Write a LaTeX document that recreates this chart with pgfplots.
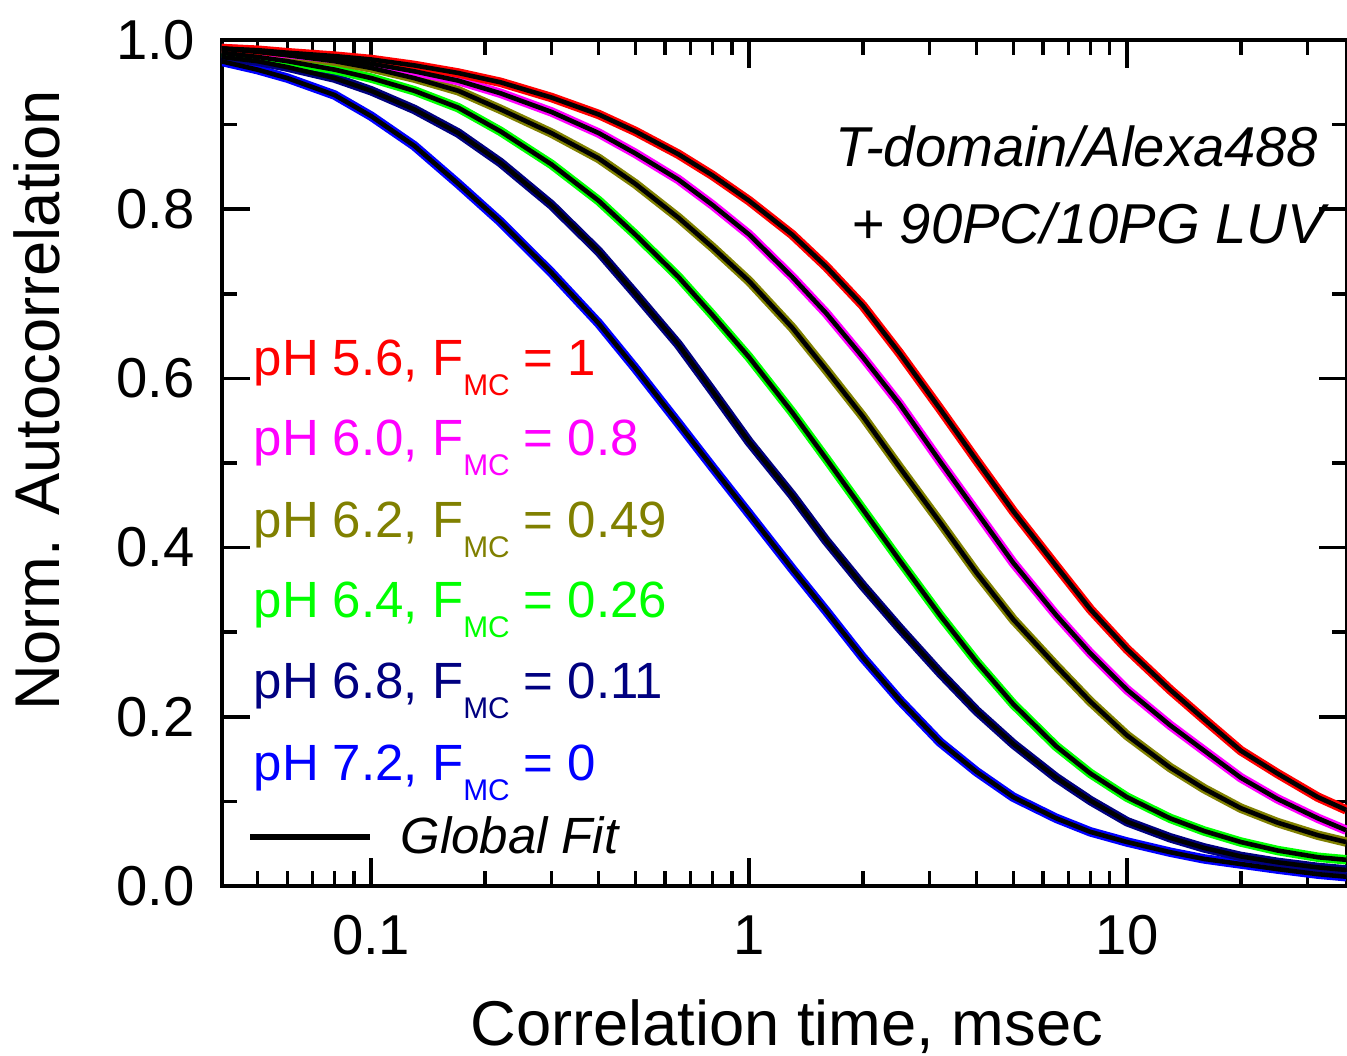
\documentclass[border=0pt]{standalone}
\usepackage{pgfplots}
\usepackage{pgfplotstable}
\pgfplotsset{compat=1.18}
\usepackage{fontspec}
\setmainfont{Liberation Sans}
\definecolor{cRed}{RGB}{255,0,0}
\definecolor{cMag}{RGB}{255,0,255}
\definecolor{cOli}{RGB}{128,128,0}
\definecolor{cGre}{RGB}{0,255,0}
\definecolor{cNav}{RGB}{0,0,128}
\definecolor{cBlu}{RGB}{0,0,255}
\newcommand{\sub}[1]{\raisebox{-0.2cm}{\fontsize{8.5}{8.5}\selectfont #1}}

\pgfplotstableread{
x     red    magenta olive  green  navy   blue
0.04  0.990  0.990   0.990  0.985  0.980  0.975
0.05  0.988  0.987   0.986  0.980  0.975  0.965
0.06  0.985  0.984   0.982  0.975  0.968  0.955
0.08  0.981  0.978   0.975  0.965  0.955  0.935
0.1   0.977  0.972   0.967  0.955  0.940  0.910
0.13  0.970  0.963   0.955  0.940  0.918  0.875
0.17  0.961  0.952   0.940  0.920  0.890  0.830
0.22  0.950  0.937   0.918  0.892  0.855  0.785
0.3   0.932  0.915   0.890  0.853  0.805  0.725
0.4   0.912  0.890   0.860  0.810  0.750  0.665
0.5   0.892  0.866   0.830  0.770  0.700  0.612
0.65  0.865  0.835   0.790  0.720  0.640  0.547
0.8   0.840  0.805   0.755  0.675  0.585  0.495
1     0.810  0.770   0.715  0.625  0.525  0.440
1.3   0.770  0.720   0.660  0.560  0.462  0.375
1.6   0.732  0.677   0.610  0.505  0.408  0.325
2     0.686  0.625   0.555  0.445  0.355  0.270
2.5   0.630  0.570   0.495  0.385  0.305  0.220
3.2   0.564  0.502   0.430  0.320  0.252  0.170
4     0.503  0.442   0.370  0.265  0.207  0.135
5     0.443  0.382   0.315  0.215  0.168  0.105
6.5   0.378  0.320   0.260  0.165  0.128  0.080
8     0.327  0.275   0.218  0.133  0.101  0.064
10    0.280  0.232   0.178  0.105  0.076  0.052
13    0.232  0.190   0.140  0.080  0.057  0.040
16    0.197  0.160   0.115  0.065  0.045  0.032
20    0.160  0.128   0.092  0.052  0.035  0.026
25    0.133  0.103   0.075  0.042  0.028  0.020
32    0.105  0.080   0.060  0.034  0.022  0.014
38    0.090  0.066   0.052  0.031  0.019  0.011
}\datatable

\begin{document}
\begin{tikzpicture}
\begin{axis}[
  scale only axis, width=11.25cm, height=8.46cm,
  xmode=log, xmin=0.0403, xmax=38.2, ymin=0, ymax=1,
  axis line style={line width=1.1pt},
  tick style={line width=1pt, black},
  tick align=inside,
  major tick length=0.28cm, minor tick length=0.15cm,
  xtick={0.1,1,10}, xticklabels={0.1,1,10},
  minor xtick={0.05,0.06,0.07,0.08,0.09,0.2,0.3,0.4,0.5,0.6,0.7,0.8,0.9,2,3,4,5,6,7,8,9,20,30},
  ytick={0,0.2,0.4,0.6,0.8,1.0},
  minor ytick={0.1,0.3,0.5,0.7,0.9},
  /pgf/number format/assume math mode=true,
  yticklabel style={/pgf/number format/.cd, fixed, fixed zerofill, precision=1, /tikz/.cd, xshift=-0.15cm},
  xticklabel style={yshift=-0.17cm},
  ticklabel style={font=\fontsize{16}{16}\selectfont},
  xlabel={Correlation time, msec},
  ylabel={Norm. Autocorrelation},
  label style={font=\fontsize{18}{18}\selectfont},
  xlabel style={at={(axis description cs:0.502,-0.188)}, anchor=base},
  ylabel style={at={(axis description cs:-0.144,0.574)}, anchor=base},
  every axis plot/.append style={line join=round},
]
\addplot[cBlu, line width=2.7pt] table[x=x, y=blue] {\datatable};
\addplot[cNav, line width=2.7pt] table[x=x, y=navy] {\datatable};
\addplot[cGre, line width=2.7pt] table[x=x, y=green] {\datatable};
\addplot[cOli, line width=2.7pt] table[x=x, y=olive] {\datatable};
\addplot[cMag, line width=2.7pt] table[x=x, y=magenta] {\datatable};
\addplot[cRed, line width=2.7pt] table[x=x, y=red] {\datatable};
\addplot[black, line width=1.3pt] table[x=x, y=blue] {\datatable};
\addplot[black, line width=1.3pt] table[x=x, y=navy] {\datatable};
\addplot[black, line width=1.3pt] table[x=x, y=green] {\datatable};
\addplot[black, line width=1.3pt] table[x=x, y=olive] {\datatable};
\addplot[black, line width=1.3pt] table[x=x, y=magenta] {\datatable};
\addplot[black, line width=1.3pt] table[x=x, y=red] {\datatable};

\begin{scope}[every node/.style={anchor=base west, inner sep=0pt, font=\fontsize{14.5}{14.5}\selectfont}]
\node[text=cRed] at (rel axis cs:0.0276,0.604) {pH 5.6, F\sub{MC} = 1};
\node[text=cMag] at (rel axis cs:0.0276,0.509) {pH 6.0, F\sub{MC} = 0.8};
\node[text=cOli] at (rel axis cs:0.0276,0.4125) {pH 6.2, F\sub{MC} = 0.49};
\node[text=cGre] at (rel axis cs:0.0276,0.3168) {pH 6.4, F\sub{MC} = 0.26};
\node[text=cNav] at (rel axis cs:0.0276,0.2222) {pH 6.8, F\sub{MC} = 0.11};
\node[text=cBlu] at (rel axis cs:0.0276,0.1253) {pH 7.2, F\sub{MC} = 0};
\node[font=\fontsize{14.5}{14.5}\selectfont\itshape] at (rel axis cs:0.158,0.039) {Global Fit};
\end{scope}
\draw[black, line width=1.5pt] (rel axis cs:0.0249,0.058) -- (rel axis cs:0.1316,0.058);

\node[anchor=base west, inner sep=0pt, font=\fontsize{16}{16}\selectfont\itshape] at (rel axis cs:0.545,0.851) {T-domain/Alexa488};
\node[anchor=base east, inner sep=0pt, font=\fontsize{16}{16}\selectfont\itshape] at (rel axis cs:0.981,0.760) {+ 90PC/10PG LUV};

\coordinate (sw) at (rel axis cs:0,0);
\coordinate (ne) at (rel axis cs:1,1);
\end{axis}
\pgfresetboundingbox
\path ([shift={(-2.22cm,-1.69cm)}]sw) rectangle ([shift={(0cm,0.40cm)}]ne);
\end{tikzpicture}
\end{document}
